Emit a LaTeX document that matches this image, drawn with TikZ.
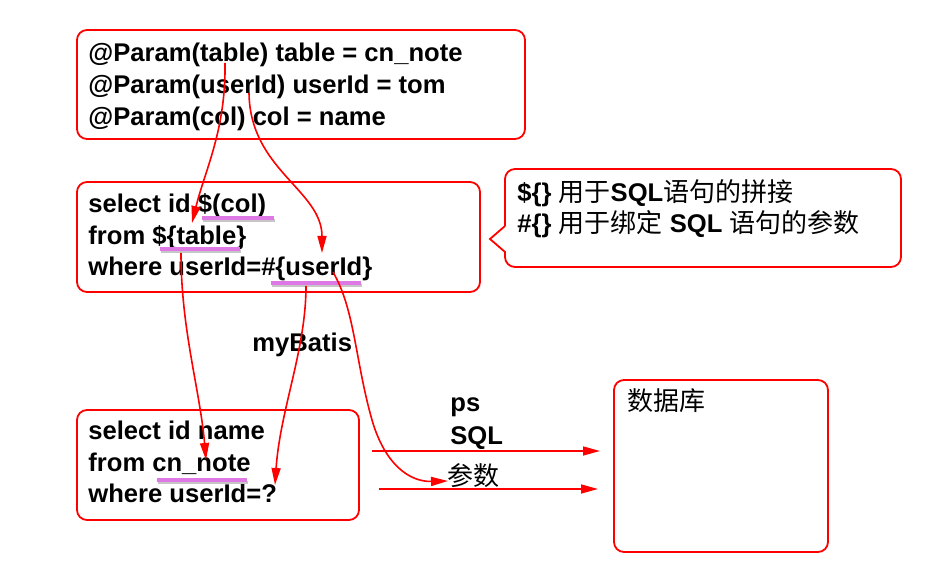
\documentclass[tikz,border=0pt]{standalone}
\usepackage{fontspec}
\setmainfont{Liberation Sans}
\newfontfamily\cjk{Noto Sans CJK SC}
\usetikzlibrary{arrows.meta,fit}
\definecolor{hlviolet}{RGB}{222,120,228}
\newcommand{\zh}[1]{{\cjk\mdseries\fontsize{13pt}{16pt}\selectfont #1}}

\tikzset{
  box/.style={draw=red, line width=0.9pt, rounded corners=5pt, inner sep=0pt},
  callout/.style={draw=red, line width=0.9pt},
  code/.style={anchor=base west, inner sep=0pt, font=\fontsize{12.8pt}{16pt}\selectfont\bfseries},
  link/.style={draw=red, line width=0.8pt, -{Triangle[length=8.5pt,width=4.5pt]}},
  hl/.style={draw=hlviolet, line width=1.6pt},
}

\begin{document}
\begin{tikzpicture}[x=0.5pt, y=-0.5pt]
    \useasboundingbox (0,0) rectangle (927,576);

    % Boxes
    \node[box, fit={(77,30) (525,139)}] (parambox) {};
    \node[box, fit={(77,182) (480,292)}] (sqlbox) {};
    \node[box, fit={(77,410) (359,520)}] (psbox) {};
    \node[box, fit={(614,380) (828,552)}] (dbbox) {};
    \draw[callout] (505,226) -- (490,239) -- (505,252) [rounded corners=5pt] -- (505,267) -- (901,267) -- (901,169) -- (505,169) -- (505,226);

    % Texts
    \node[code] (p1) at (88,62) {@Param(table) table = cn\_note};
    \node[code] (p2) at (88,94) {@Param(userId) userId = tom};
    \node[code] (p3) at (88,126) {@Param(col) col = name};

    \node[code] (s1) at (88,213) {select id \$(col)};
    \node[code] (s2) at (88,245) {from \$\{table\}};
    \node[code] (s3) at (88,276) {where userId=\#\{userId\}};

    \node[code] (q1) at (88,440) {select id name};
    \node[code] (q2) at (88,472) {from cn\_note};
    \node[code] (q3) at (88,503) {where userId=?};

    \node[code] (tip1) at (517,202) {\$\{\} \zh{用于}SQL\zh{语句的拼接}};
    \node[code] (tip2) at (517,233) {\#\{\} \zh{用于绑定} SQL \zh{语句的参数}};

    \node[code] (mybatis) at (252,352) {myBatis};
    \node[code] (ps) at (450,412) {ps};
    \node[code] (sql) at (450,445) {SQL};
    \node[code] (args) at (447,486) {\zh{参数}};
    \node[code] (db) at (627,411) {\zh{数据库}};

    % Highlights
    \foreach \a/\b/\y in {202/274/218, 160/240/249, 271/361/283, 157/247/480} {
        \draw[gray!45, line width=1.6pt] (\a+1,\y+2.5) -- (\b+1,\y+2.5);
        \draw[hl] (\a,\y) -- (\b,\y);
    }

    % Points
    \coordinate (tblfrom) at (225,63);
    \coordinate (tblto) at (192,223);
    \coordinate (uidfrom) at (249,93);
    \coordinate (uidto) at (322,253);
    \coordinate (notefrom) at (181,253);
    \coordinate (noteto) at (206,460);
    \coordinate (qfrom) at (306,286);
    \coordinate (qto) at (275,485);
    \coordinate (argfrom) at (333,272);
    \coordinate (argto) at (448,481);
    \coordinate (sqlfrom) at (372,451);
    \coordinate (sqlto) at (600,451);
    \coordinate (valfrom) at (379,489);
    \coordinate (valto) at (598,489);

    % Arrows
    \draw[link] (tblfrom) .. controls (226,130) and (205,170) .. (tblto);
    \draw[link] (uidfrom) .. controls (250,170) and (322,190) .. (uidto);
    \draw[link] (notefrom) .. controls (181,330) and (200,390) .. (noteto);
    \draw[link] (qfrom) .. controls (306,350) and (280,410) .. (qto);
    \draw[link] (argfrom) .. controls (355,310) and (355,360) .. (372,420) .. controls (385,465) and (410,482) .. (argto);
    \draw[link] (sqlfrom) -- (sqlto);
    \draw[link] (valfrom) -- (valto);
\end{tikzpicture}
\end{document}
